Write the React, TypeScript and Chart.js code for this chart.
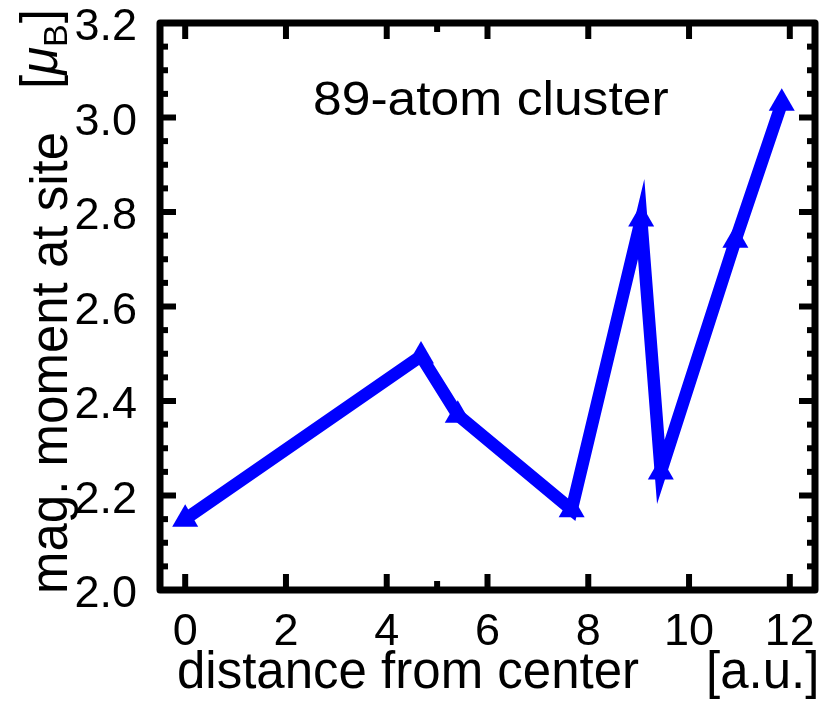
import React, { useEffect, useRef } from 'react';
import { Chart, registerables } from 'chart.js';

Chart.register(...registerables);

// ---- data ----
const distances = [0, 4.68, 5.41, 7.67, 9.05, 9.44, 10.92, 11.84];
const moments = [2.15, 2.495, 2.37, 2.17, 2.785, 2.25, 2.74, 3.03];
const xTickValues = [0, 2, 4, 6, 8, 10, 12];
const xTickLabels = ['0', '2', '4', '6', '8', '10', '12'];
const yTickValues = [2.0, 2.2, 2.4, 2.6, 2.8, 3.0, 3.2];
const yTickLabels = ['2.0', '2.2', '2.4', '2.6', '2.8', '3.0', '3.2'];
const xMinorTickValues = [5];
const yMinorTickValues = [2.05, 2.1, 2.15, 2.25, 2.3, 2.35, 2.45, 2.5, 2.55, 2.65, 2.7, 2.75, 2.85, 2.9, 2.95, 3.05, 3.1, 3.15];
const annotationText = '89-atom cluster';
const xTitleMain = 'distance from center';
const xTitleUnit = '[a.u.]';
const yTitleMain = 'mag. moment at site';

const FONT = '"Liberation Sans", Arial, Helvetica, sans-serif';

const framePlugin = {
  id: 'framePlugin',
  afterDraw(chart: any) {
    const { ctx, chartArea } = chart;
    const { left, right, top, bottom } = chartArea;
    const xs = chart.scales.x;
    const ys = chart.scales.y;
    ctx.save();
    ctx.strokeStyle = '#000';
    ctx.lineCap = 'butt';
    ctx.lineWidth = 6;
    const seg = (x1: number, y1: number, x2: number, y2: number) => {
      ctx.beginPath();
      ctx.moveTo(x1, y1);
      ctx.lineTo(x2, y2);
      ctx.stroke();
    };
    xTickValues.forEach((v) => {
      const px = xs.getPixelForValue(v);
      seg(px, bottom, px, bottom - 16);
      seg(px, top, px, top + 16);
    });
    xMinorTickValues.forEach((v) => {
      const px = xs.getPixelForValue(v);
      seg(px, bottom, px, bottom - 9);
      seg(px, top, px, top + 9);
    });
    yTickValues.forEach((v) => {
      const py = ys.getPixelForValue(v);
      seg(left, py, left + 16, py);
      seg(right, py, right - 16, py);
    });
    yMinorTickValues.forEach((v) => {
      const py = ys.getPixelForValue(v);
      seg(left, py, left + 8, py);
      seg(right, py, right - 8, py);
    });
    ctx.lineWidth = 7;
    ctx.lineJoin = 'round';
    ctx.strokeRect(left, top, right - left, bottom - top);

    ctx.fillStyle = '#000';
    ctx.textBaseline = 'alphabetic';

    // tick labels
    ctx.font = `45px ${FONT}`;
    ctx.textAlign = 'center';
    xTickValues.forEach((v, i) => {
      ctx.fillText(xTickLabels[i], xs.getPixelForValue(v), bottom + 55);
    });
    ctx.textAlign = 'right';
    yTickValues.forEach((v, i) => {
      ctx.fillText(yTickLabels[i], left - 23, ys.getPixelForValue(v) + 17);
    });

    ctx.textAlign = 'left';
    // annotation
    ctx.save();
    ctx.translate(313, 115);
    ctx.scale(1.075, 1);
    ctx.font = `48px ${FONT}`;
    ctx.fillText(annotationText, 0, 0);
    ctx.restore();

    ctx.font = `51px ${FONT}`;
    ctx.fillText(xTitleMain, 177, 688);
    ctx.fillText(xTitleUnit, 706, 688);

    ctx.save();
    ctx.translate(67, 594);
    ctx.rotate(-Math.PI / 2);
    ctx.font = `51px ${FONT}`;
    ctx.fillText(yTitleMain, 0, 0);
    ctx.restore();

    ctx.save();
    ctx.translate(57, 89);
    ctx.rotate(-Math.PI / 2);
    let cx = 0;
    ctx.font = `51px ${FONT}`;
    ctx.fillText('[', cx, 0);
    cx += ctx.measureText('[').width;
    ctx.font = `italic 51px ${FONT}`;
    ctx.fillText('\u03bc', cx, 0);
    cx += ctx.measureText('\u03bc').width;
    ctx.font = `34px ${FONT}`;
    ctx.fillText('B', cx, 10);
    cx += ctx.measureText('B').width + 1;
    ctx.font = `51px ${FONT}`;
    ctx.fillText(']', cx, 0);
    ctx.restore();

    ctx.restore();
  },
};

export default function App() {
  const ref = useRef<HTMLCanvasElement>(null);
  useEffect(() => {
    document.body.style.margin = '0';
    const canvas = ref.current;
    if (!canvas) return;
    const chart = new Chart(canvas, {
      type: 'line',
      data: {
        datasets: [
          {
            data: distances.map((x, i) => ({ x, y: moments[i] })),
            borderColor: '#0000ff',
            backgroundColor: '#0000ff',
            borderWidth: 12.5,
            borderJoinStyle: 'miter',
            borderCapStyle: 'butt',
            pointStyle: 'triangle',
            pointRadius: 15,
            pointBorderWidth: 0,
            pointBackgroundColor: '#0000ff',
            pointBorderColor: '#0000ff',
            tension: 0,
            clip: false,
          } as any,
        ],
      },
      options: {
        animation: false,
        responsive: false,
        devicePixelRatio: 1,
        layout: { padding: { left: 160, right: 10, top: 23, bottom: 114 } },
        plugins: { legend: { display: false }, tooltip: { enabled: false } },
        scales: {
          x: { type: 'linear', min: -0.5, max: 12.5, display: false },
          y: { type: 'linear', min: 2.0, max: 3.2, display: false },
        },
      } as any,
      plugins: [framePlugin],
    });
    return () => chart.destroy();
  }, []);
  return <canvas ref={ref} width={830} height={704} style={{ display: 'block' }} />;
}
